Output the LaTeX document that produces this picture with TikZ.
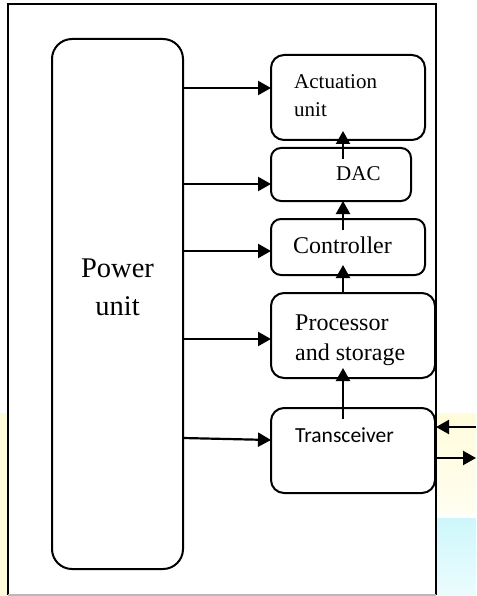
\documentclass[tikz,border=0pt]{standalone}
\usepackage{fontspec}
\setmainfont{Liberation Serif}
\newfontfamily\calibfont{Carlito}
\usetikzlibrary{arrows.meta,calc}
\definecolor{paleyellow}{RGB}{255,252,219}
\definecolor{paleyellowend}{RGB}{255,254,240}
\definecolor{palecyan}{RGB}{206,247,251}
\definecolor{palecyanend}{RGB}{236,252,254}
\begin{document}
\begin{tikzpicture}[x=1pt,y=-1pt,
  box/.style={draw,line width=2pt,rounded corners=#1,inner sep=0pt,outer sep=0pt},
  box/.default=12pt,
  arr/.style={line width=2.2pt,-{Triangle[length=13pt,width=14pt]}},
  lbl/.style={inner sep=0pt,anchor=base west},
  serifA/.style={font=\fontsize{21}{25}\selectfont},
  serifB/.style={font=\fontsize{24}{28}\selectfont},
  serifC/.style={font=\fontsize{28.5}{32}\selectfont},
  sansA/.style={font=\calibfont\fontsize{21.5}{25}\selectfont}]
\useasboundingbox (0,0) rectangle (476,596);

% tinted background strips
\fill[paleyellow] (0,413) rectangle (8,596);
\shade[top color=paleyellow,bottom color=paleyellowend] (436,413) rectangle (476,512);
\shade[top color=palecyan,bottom color=palecyanend] (436,518) rectangle (476,596);

% outer frame
\node[fill=white,inner sep=0pt,outer sep=0pt,minimum width=428pt,minimum height=591pt] (frame) at (222,299.5) {};
\draw[line width=2.2pt] (frame.south west) -- (frame.north west) -- (frame.north east) -- (frame.south east);
\draw[line width=1.4pt,gray!55] (frame.south west) -- (frame.south east);

% blocks
\node[box=20pt,minimum width=131pt,minimum height=530pt] (power) at (117.5,304) {};
\node[box=13pt,minimum width=154pt,minimum height=85pt] (act) at (348,97.5) {};
\node[box=10pt,minimum width=140pt,minimum height=53pt] (dac) at (341,174.5) {};
\node[box=10pt,minimum width=154pt,minimum height=56pt] (ctrl) at (348,247) {};
\node[box=13pt,minimum width=164pt,minimum height=85pt] (proc) at (353,335.5) {};
\node[box=13pt,minimum width=164pt,minimum height=85pt] (trx) at (353,450.5) {};

% block texts
\node[serifC,inner sep=0pt,anchor=base] (pw1) at (117.5,277) {Power};
\node[serifC,inner sep=0pt,anchor=base] (pw2) at (117.5,315) {unit};
\node[serifA,lbl] (act1) at (294,89) {Actuation};
\node[serifA,lbl] (act2) at (294,117) {unit};
\node[serifA,lbl] (dactxt) at (336,180) {DAC};
\node[serifB,lbl] (ctrltxt) at (293,253) {Controller};
\node[serifB,lbl] (proc1) at (295,330) {Processor};
\node[serifB,lbl] (proc2) at (295,360) {and storage};
\node[sansA,lbl] (trxtxt) at (295,442) {Transceiver};

% power feeds
\draw[arr] ([yshift=9.5pt]act.west -| power.east) -- ([yshift=9.5pt]act.west);
\draw[arr] ([yshift=-9.5pt]dac.west -| power.east) -- ([yshift=-9.5pt]dac.west);
\draw[arr] ([yshift=-4pt]ctrl.west -| power.east) -- ([yshift=-4pt]ctrl.west);
\draw[arr] ([yshift=-3.5pt]proc.west -| power.east) -- ([yshift=-3.5pt]proc.west);
\draw[arr] ([yshift=12.5pt]trx.west -| power.east) -- ([yshift=10.5pt]trx.west);

% signal chain
\draw[arr] ([xshift=-10pt,yshift=-11pt]trx.north) -- ([xshift=-10pt,yshift=10pt]proc.south);
\draw[arr] ([xshift=-10pt]proc.north) -- ([xshift=-5pt,yshift=10pt]ctrl.south);
\draw[arr] ([xshift=-5pt,yshift=-11pt]ctrl.north) -- ([xshift=2pt]dac.south);
\draw[arr] ([xshift=2pt,yshift=-11pt]dac.north) -- ([xshift=-5pt,yshift=9pt]act.south);

% external link
\coordinate (linkin) at (476,427);
\coordinate (linkout) at (476,458);
\draw[arr] (linkin) -- (frame.east |- linkin);
\draw[arr] (frame.east |- linkout) -- (linkout);
\end{tikzpicture}
\end{document}
